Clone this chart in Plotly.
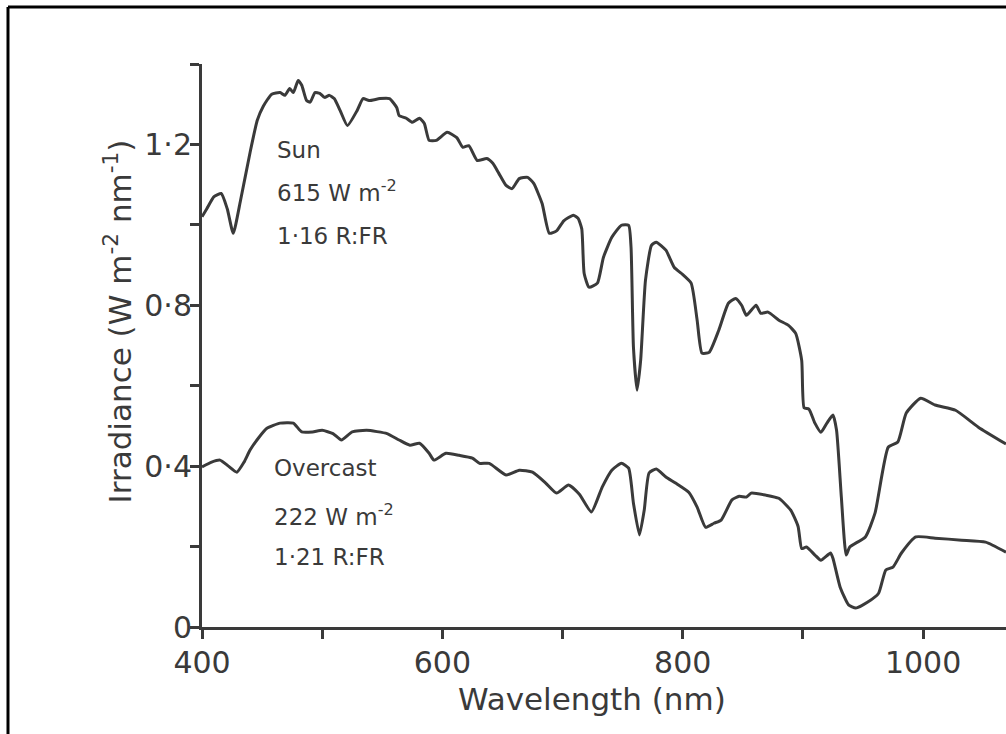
import plotly.graph_objects as go

# ---- data ----
sun_nm = [400, 404, 410, 416, 421, 426, 432, 440, 446, 451, 458, 465, 469, 473, 476, 480, 483, 487, 490, 494,
          498, 502, 506, 510, 515, 521, 529, 534, 539, 548, 556, 562, 564, 570, 575, 581, 585, 589, 595, 604,
          612, 617, 622, 629, 637, 642, 647, 653, 658, 664, 671, 676, 683, 689, 695, 701, 709, 713, 716, 718,
          722, 729, 734, 741, 749, 755, 757, 759, 762, 765, 769, 774, 778, 786, 793, 799, 807, 812, 816, 822,
          830, 838, 844, 849, 853, 861, 865, 871, 880, 888, 894, 899, 901, 905, 910, 915, 920, 925, 928, 932,
          936, 939, 952, 960, 971, 979, 986, 998, 1010, 1027, 1046, 1069]
sun_irr = [1.02, 1.04, 1.07, 1.078, 1.04, 0.979, 1.06, 1.18, 1.26, 1.295, 1.325, 1.329, 1.322, 1.339, 1.329, 1.359,
           1.347, 1.309, 1.305, 1.329, 1.327, 1.317, 1.322, 1.314, 1.284, 1.247, 1.284, 1.314, 1.309, 1.314, 1.314,
           1.292, 1.272, 1.265, 1.255, 1.265, 1.252, 1.21, 1.21, 1.23, 1.217, 1.193, 1.197, 1.16, 1.165, 1.153,
           1.128, 1.098, 1.09, 1.115, 1.118, 1.103, 1.053, 0.979, 0.985, 1.01, 1.024, 1.016, 0.99, 0.879, 0.845,
           0.855, 0.919, 0.969, 0.999, 0.999, 0.944, 0.696, 0.589, 0.663, 0.862, 0.949, 0.957, 0.937, 0.894, 0.879,
           0.855, 0.763, 0.681, 0.683, 0.738, 0.805, 0.817, 0.800, 0.775, 0.800, 0.780, 0.783, 0.763, 0.750, 0.730,
           0.663, 0.545, 0.542, 0.507, 0.484, 0.507, 0.527, 0.489, 0.323, 0.179, 0.199, 0.224, 0.283, 0.447, 0.460,
           0.532, 0.569, 0.552, 0.539, 0.497, 0.455]

overcast_nm = [400, 408, 415, 422, 429, 435, 440, 447, 454, 465, 476, 483, 492, 500, 509, 516, 525, 537, 554, 564,
               573, 581, 589, 593, 603, 614, 625, 631, 639, 653, 664, 675, 686, 695, 705, 714, 724, 733, 741, 749,
               755, 759, 764, 768, 772, 778, 786, 794, 805, 812, 819, 826, 832, 841, 847, 853, 857, 869, 880, 890,
               896, 899, 903, 910, 915, 923, 925, 931, 938, 944, 954, 963, 969, 975, 982, 994, 1010, 1032, 1052, 1069]
overcast_irr = [0.398, 0.41, 0.415, 0.40, 0.385, 0.41, 0.44, 0.47, 0.494, 0.507, 0.507, 0.485, 0.485, 0.489, 0.481,
                0.465, 0.485, 0.489, 0.481, 0.465, 0.452, 0.457, 0.432, 0.415, 0.432, 0.427, 0.42, 0.407, 0.407,
                0.378, 0.39, 0.385, 0.358, 0.333, 0.353, 0.33, 0.286, 0.348, 0.39, 0.407, 0.395, 0.308, 0.229,
                0.291, 0.383, 0.393, 0.373, 0.358, 0.335, 0.298, 0.248, 0.258, 0.266, 0.316, 0.325, 0.323, 0.333,
                0.328, 0.32, 0.29, 0.25, 0.195, 0.199, 0.179, 0.166, 0.184, 0.171, 0.099, 0.055, 0.047, 0.062,
                0.084, 0.142, 0.149, 0.184, 0.224, 0.221, 0.216, 0.211, 0.186]

x_tickvals = [400, 600, 800, 1000]
x_ticktext = ["400", "600", "800", "1000"]
x_minorvals = [500, 700, 900]
y_tickvals = [0, 0.4, 0.8, 1.2]
y_ticktext = ["0", "0·4", "0·8", "1·2"]
y_minorvals = [0.2, 0.6, 1.0, 1.4]

sun_label = ["Sun", "615 W m<sup>-2</sup>", "1·16 R:FR"]
sun_label_y = [1.186, 1.084, 0.972]
overcast_label = ["Overcast", "222 W m<sup>-2</sup>", "1·21 R:FR"]
overcast_label_y = [0.395, 0.279, 0.174]

INK = "#3a3a3a"
FONT = "DejaVu Sans"

fig = go.Figure()
fig.add_trace(go.Scatter(x=sun_nm, y=sun_irr, mode="lines",
                         line=dict(color=INK, width=3, shape="spline", smoothing=0.5),
                         showlegend=False, name="Sun"))
fig.add_trace(go.Scatter(x=overcast_nm, y=overcast_irr, mode="lines",
                         line=dict(color=INK, width=3, shape="spline", smoothing=0.5),
                         showlegend=False, name="Overcast"))

annotations = []
for t, yy in zip(sun_label, sun_label_y):
    annotations.append(dict(x=461, y=yy, xref="x", yref="y", text=t, showarrow=False,
                            xanchor="left", yanchor="middle",
                            font=dict(family=FONT, size=23, color=INK)))
for t, yy in zip(overcast_label, overcast_label_y):
    annotations.append(dict(x=458, y=yy, xref="x", yref="y", text=t, showarrow=False,
                            xanchor="left", yanchor="middle",
                            font=dict(family=FONT, size=23, color=INK)))
annotations.append(dict(x=0.4845, y=-0.127, xref="paper", yref="paper", text="Wavelength (nm)",
                        showarrow=False, xanchor="center", yanchor="middle",
                        font=dict(family=FONT, size=31, color=INK)))
annotations.append(dict(x=-0.104, y=0.5435, xref="paper", yref="paper",
                        text="Irradiance (W m<sup>-2</sup> nm<sup>-1</sup>)",
                        showarrow=False, xanchor="center", yanchor="middle", textangle=-90,
                        font=dict(family=FONT, size=31, color=INK)))

# scanned-page frame (left and top border)
shapes = [
    dict(type="line", xref="paper", yref="paper", x0=-0.2413, x1=1.01, y0=1.1012, y1=1.1012,
         line=dict(color="black", width=3)),
    dict(type="line", xref="paper", yref="paper", x0=-0.2413, x1=-0.2413, y0=1.1012, y1=-0.2,
         line=dict(color="black", width=3)),
]

minor_x = dict(tickmode="array", tickvals=x_minorvals, ticks="outside", ticklen=9,
               tickwidth=2.5, tickcolor=INK, showgrid=False)
minor_y = dict(tickmode="array", tickvals=y_minorvals, ticks="outside", ticklen=9,
               tickwidth=2.5, tickcolor=INK, showgrid=False)

fig.update_layout(
    width=1006, height=734,
    margin=dict(l=202, r=0, t=64, b=107),
    paper_bgcolor="white", plot_bgcolor="white",
    annotations=annotations, shapes=shapes,
    xaxis=dict(range=[400, 1069], tickmode="array", tickvals=x_tickvals, ticktext=x_ticktext,
               showline=True, linecolor=INK, linewidth=3, ticks="outside", ticklen=9, tickwidth=2.5,
               tickcolor=INK, showgrid=False, zeroline=False, ticklabelstandoff=-2,
               minor=minor_x,
               tickfont=dict(family=FONT, size=30, color=INK)),
    yaxis=dict(range=[0, 1.4], tickmode="array", tickvals=y_tickvals, ticktext=y_ticktext,
               showline=True, linecolor=INK, linewidth=3, ticks="outside", ticklen=9, tickwidth=2.5,
               tickcolor=INK, showgrid=False, zeroline=False, ticklabelstandoff=-8,
               minor=minor_y,
               tickfont=dict(family=FONT, size=30, color=INK)),
)

fig.write_html("out.html", config={"displayModeBar": False},
               post_script="document.body.style.margin='0px';")
